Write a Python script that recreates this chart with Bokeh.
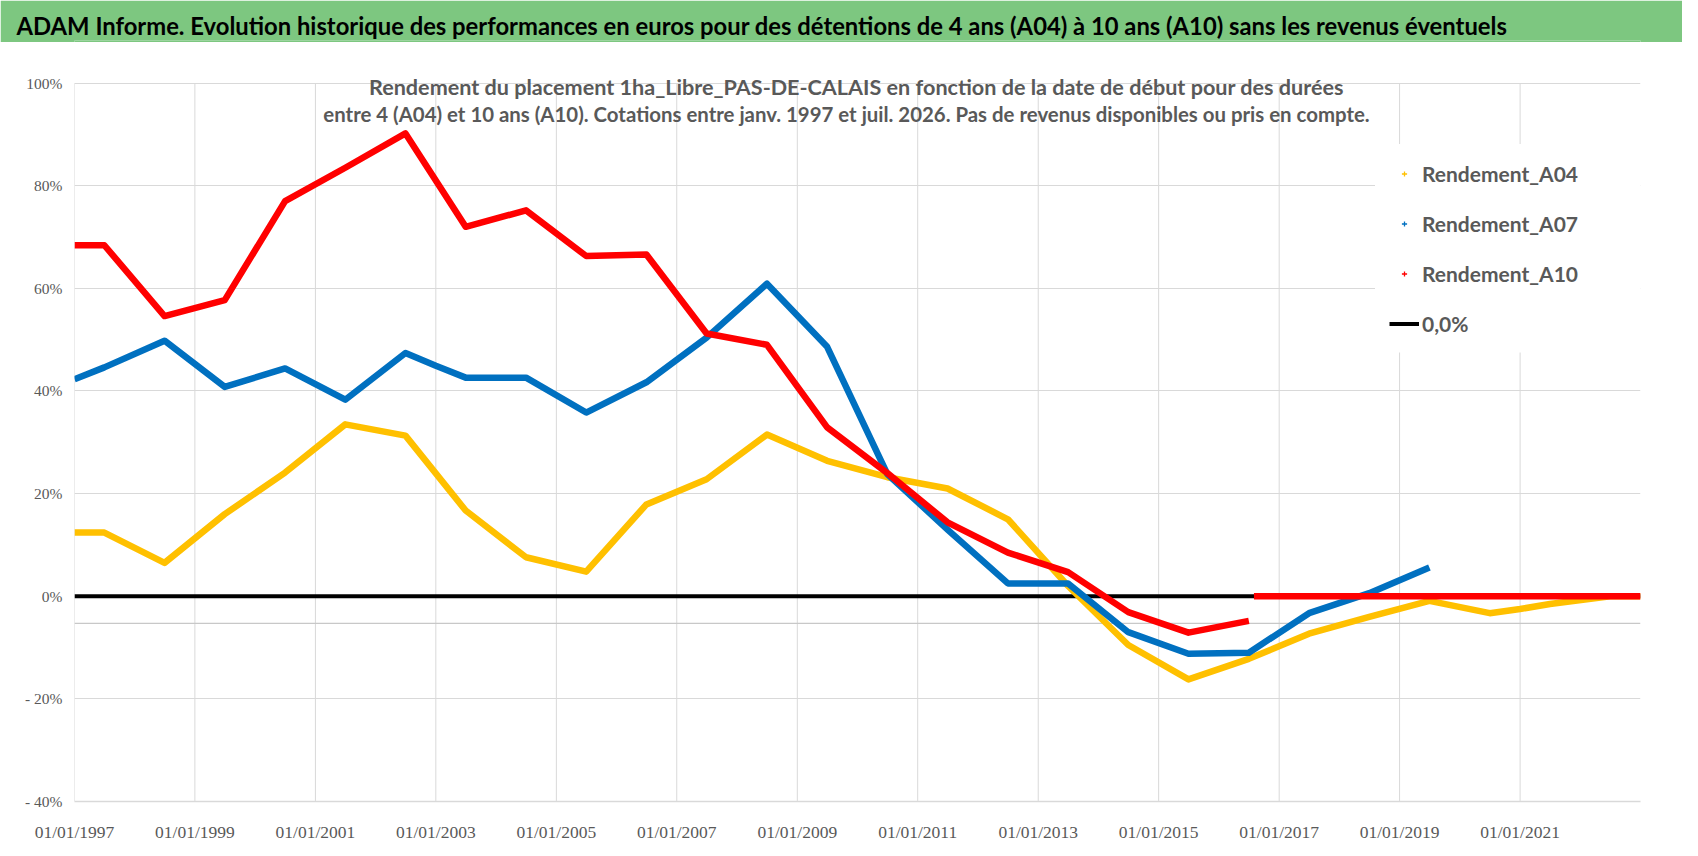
import math
import pandas as pd
from bokeh.plotting import figure
from bokeh.models import (Range1d, FixedTicker, Label, Legend, LegendItem, Span, Title,
                          BoxAnnotation)
from bokeh.layouts import column
from bokeh.embed import file_html
from bokeh.resources import INLINE

TITLE = ("ADAM Informe. Evolution historique des performances en euros pour des "
         "détentions de 4 ans (A04) à 10 ans (A10) sans les revenus éventuels")
SUBTITLE_1 = ("Rendement du placement 1ha_Libre_PAS-DE-CALAIS en fonction de la date "
              "de début pour des durées")
SUBTITLE_2 = ("entre 4 (A04) et 10 ans (A10). Cotations entre janv. 1997 et juil. 2026. "
              "Pas de revenus disponibles ou pris en compte.")

# ---- data ----
a04_dates = ["1997-01-01", "1997-07-01", "1998-07-01", "1999-07-01", "2000-07-01",
             "2001-07-01", "2002-07-01", "2003-07-01", "2004-07-01", "2005-07-01",
             "2006-07-01", "2007-07-01", "2008-07-01", "2009-07-01", "2010-07-01",
             "2011-07-01", "2012-07-01", "2013-07-01", "2014-07-01", "2015-07-01",
             "2016-07-01", "2017-07-01", "2018-07-01", "2019-07-01", "2020-07-01",
             "2021-01-01", "2021-07-01", "2022-07-01", "2023-01-01"]
a04_values = [12.4, 12.4, 6.5, 16.0, 24.1,
              33.5, 31.3, 16.7, 7.6, 4.8,
              17.9, 22.8, 31.5, 26.4, 23.2,
              21.0, 15.0, 2.0, -9.5, -16.2,
              -12.2, -7.3, -4.0, -0.9, -3.3,
              -2.5, -1.5, 0.0, 0.0]

a07_dates = ["1997-01-01", "1997-07-01", "1998-07-01", "1999-07-01", "2000-07-01",
             "2001-07-01", "2002-07-01", "2003-01-01", "2003-07-01", "2004-07-01",
             "2005-07-01", "2006-07-01", "2007-07-01", "2008-07-01", "2009-07-01",
             "2010-07-01", "2011-07-01", "2012-07-01", "2013-07-01", "2014-07-01",
             "2015-07-01", "2016-07-01", "2017-07-01", "2018-07-01", "2019-07-01"]
a07_values = [42.3, 44.6, 49.8, 40.8, 44.4,
              38.3, 47.4, 44.9, 42.6, 42.6,
              35.8, 41.7, 50.4, 60.9, 48.6,
              23.8, 13.0, 2.5, 2.5, -7.0,
              -11.2, -11.0, -3.3, 0.6, 5.6]

a10_dates = ["1997-01-01", "1997-07-01", "1998-07-01", "1999-07-01", "2000-07-01",
             "2001-07-01", "2002-07-01", "2003-07-01", "2004-07-01", "2005-07-01",
             "2006-07-01", "2007-07-01", "2008-07-01", "2009-07-01", "2010-07-01",
             "2011-07-01", "2012-07-01", "2013-07-01", "2014-07-01", "2015-07-01",
             "2016-07-01", "2016-07-15", "2016-08-01", "2023-01-01"]
a10_values = [68.4, 68.4, 54.6, 57.7, 77.0,
              83.5, 90.2, 72.0, 75.2, 66.3,
              66.6, 51.2, 49.0, 32.9, 24.0,
              14.4, 8.5, 4.7, -3.1, -7.1,
              -4.8, math.nan, 0.0, 0.0]

zero_dates = ["1997-01-01", "2023-01-01"]
zero_values = [0.0, 0.0]

series_names = ["Rendement_A04", "Rendement_A07", "Rendement_A10"]
zero_name = "0,0%"

x_tick_dates = ["1997-01-01", "1999-01-01", "2001-01-01", "2003-01-01", "2005-01-01",
                "2007-01-01", "2009-01-01", "2011-01-01", "2013-01-01", "2015-01-01",
                "2017-01-01", "2019-01-01", "2021-01-01"]
x_tick_labels = ["01/01/1997", "01/01/1999", "01/01/2001", "01/01/2003", "01/01/2005",
                 "01/01/2007", "01/01/2009", "01/01/2011", "01/01/2013", "01/01/2015",
                 "01/01/2017", "01/01/2019", "01/01/2021"]
y_ticks = [-40, -20, 0, 20, 40, 60, 80, 100]
y_tick_labels = ["- 40%", "- 20%", "0%", "20%", "40%", "60%", "80%", "100%"]
axis_cross_value = -5.3

x_start, x_end = "1997-01-01", "2023-01-01"
y_start, y_end = -40, 104.6   # headroom above 100% holds the subtitle

# ---- styles ----
YELLOW, BLUE, RED = "#FFC000", "#0070C0", "#FF0000"
GREEN = "#7dc780"
GRID = "#d9d9d9"
TXT = "#595959"
NARROW = "Liberation Sans Narrow"
BL, BR = 74, 42   # left / right borders shared by both figures


def to_dt(lst):
    return list(pd.to_datetime(lst))


def to_ms(d):
    return pd.Timestamp(d).value / 1e6


# ---- title band ----
t = figure(width=1682, height=42, output_backend="svg", toolbar_location=None,
           x_range=Range1d(0, 1), y_range=Range1d(0, 1),
           min_border_left=BL, min_border_right=BR, min_border_top=40, min_border_bottom=0,
           x_axis_location=None, y_axis_location=None)
t.background_fill_color = GREEN
t.border_fill_color = GREEN
t.outline_line_color = None
t.grid.visible = False
t.title = Title(text=TITLE, align="left", offset=16 - BL, standoff=0,
                vertical_align="middle", text_font="Lato", text_font_style="bold",
                text_font_size="23.8px", text_color="black")

# ---- main chart ----
p = figure(width=1682, height=808, x_axis_type="datetime",
           x_range=Range1d(pd.Timestamp(x_start), pd.Timestamp(x_end)),
           y_range=Range1d(y_start, y_end),
           output_backend="svg", toolbar_location=None,
           min_border_left=BL, min_border_right=BR, min_border_top=17,
           min_border_bottom=49)
p.outline_line_color = None
p.background_fill_color = "white"
p.border_fill_color = "white"

x_ticks_ms = [to_ms(d) for d in x_tick_dates]
p.xaxis.ticker = FixedTicker(ticks=x_ticks_ms)
p.xaxis.major_label_overrides = {k: v for k, v in zip(x_ticks_ms, x_tick_labels)}
p.yaxis.ticker = FixedTicker(ticks=y_ticks)
p.ygrid.ticker = FixedTicker(ticks=y_ticks)
p.yaxis.major_label_overrides = {k: v for k, v in zip(y_ticks, y_tick_labels)}

p.xgrid.visible = False
p.ygrid.grid_line_color = GRID
p.ygrid.grid_line_width = 1
# vertical gridlines only between the lowest and highest y tick, as in the original
p.segment(x0=to_dt(x_tick_dates), y0=[y_ticks[0]] * len(x_tick_dates),
          x1=to_dt(x_tick_dates), y1=[y_ticks[-1]] * len(x_tick_dates),
          line_color=GRID, line_width=1, level="underlay")

for ax in (p.xaxis, p.yaxis):
    ax.major_tick_line_color = None
    ax.minor_tick_line_color = None
    ax.major_tick_out = 0
    ax.major_tick_in = 0
    ax.major_label_text_color = TXT
    ax.major_label_text_font = NARROW
p.xaxis.axis_line_color = GRID
p.xaxis.axis_line_width = 1.5
p.yaxis.axis_line_color = None
p.xaxis.major_label_text_font_size = "17.5px"
p.yaxis.major_label_text_font_size = "15.5px"
p.xaxis.major_label_standoff = 20
p.yaxis.major_label_standoff = 12

p.add_layout(Span(location=axis_cross_value, dimension="width",
                  line_color="#c8c8c8", line_width=1.3, level="underlay"))

# white panel behind the legend, reaching the right edge of the plot area
p.add_layout(BoxAnnotation(left=1301, right=1566, bottom=449, top=657,
                           left_units="screen", right_units="screen",
                           bottom_units="screen", top_units="screen",
                           fill_color="white", fill_alpha=1, line_color=None,
                           level="underlay"))

r_zero = p.line(x=to_dt(zero_dates), y=zero_values, line_color="black", line_width=4)
r04 = p.line(x=to_dt(a04_dates), y=a04_values, line_color=YELLOW, line_width=6.5,
             line_join="round")
r07 = p.line(x=to_dt(a07_dates), y=a07_values, line_color=BLUE, line_width=6.5,
             line_join="round")
r10 = p.line(x=to_dt(a10_dates), y=a10_values, line_color=RED, line_width=6.5,
             line_join="round")

# legend keys: small crosses as in the original (no visible point on the chart)
k04 = p.scatter(x=[math.nan], y=[math.nan], marker="cross", size=6, line_color=YELLOW,
                line_width=1.3)
k07 = p.scatter(x=[math.nan], y=[math.nan], marker="cross", size=6, line_color=BLUE,
                line_width=1.3)
k10 = p.scatter(x=[math.nan], y=[math.nan], marker="cross", size=6, line_color=RED,
                line_width=1.3)

legend = Legend(items=[LegendItem(label=series_names[0], renderers=[k04]),
                       LegendItem(label=series_names[1], renderers=[k07]),
                       LegendItem(label=series_names[2], renderers=[k10]),
                       LegendItem(label=zero_name, renderers=[r_zero])],
                location=(1301, 449), orientation="vertical")
legend.background_fill_color = "white"
legend.background_fill_alpha = 1
legend.border_line_alpha = 0
legend.padding = 14
legend.margin = 0
legend.spacing = 20
legend.glyph_width = 30
legend.glyph_height = 13
legend.label_height = 30
legend.label_standoff = 3
legend.label_text_font = "Lato"
legend.label_text_font_style = "bold"
legend.label_text_font_size = "21px"
legend.label_text_color = TXT
p.add_layout(legend)

for txt, xx, yy, fs in ((SUBTITLE_1, 782, 715, "21.6px"), (SUBTITLE_2, 772, 688, "20.4px")):
    p.add_layout(Label(x=xx, y=yy, x_units="screen", y_units="screen", text=txt,
                       text_align="center", text_baseline="middle", text_font="Lato",
                       text_font_style="bold", text_font_size=fs, text_color=TXT))

layout = column(t, p, spacing=0)
open("out.html", "w").write(file_html(layout, INLINE))
